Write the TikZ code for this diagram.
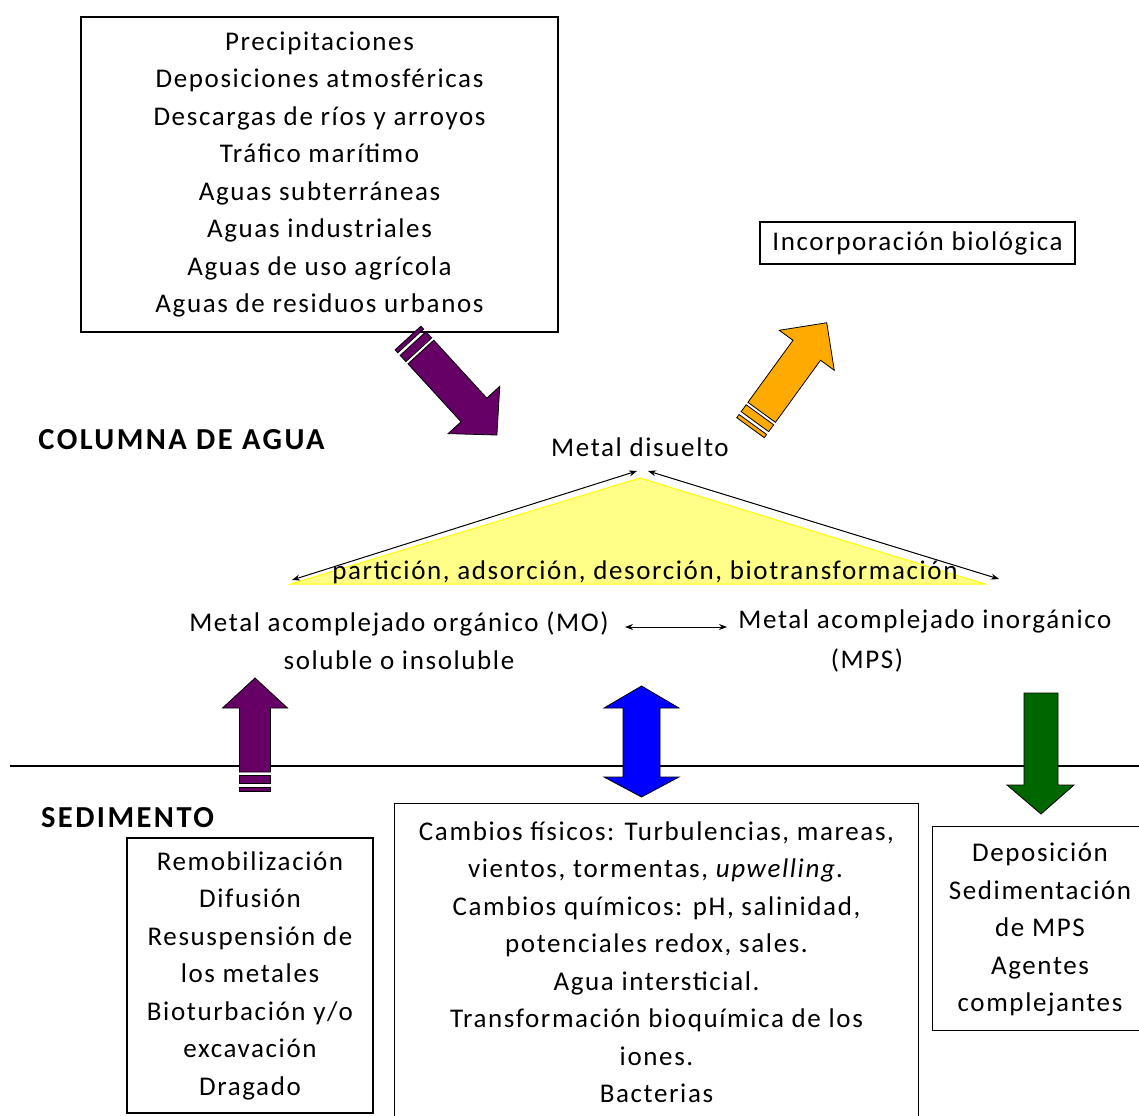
\documentclass[tikz,border=0pt]{standalone}
\usepackage{fontspec}
\setmainfont{Carlito}[LetterSpace=6]
\newfontfamily\boldlbl{Carlito}[LetterSpace=8]
\usetikzlibrary{arrows.meta}
\definecolor{purp}{HTML}{660066}
\definecolor{orng}{HTML}{FFAA00}
\definecolor{grn}{HTML}{006600}
\definecolor{blu}{HTML}{0000FF}
\definecolor{yel}{HTML}{FFFF88}
\definecolor{yedge}{HTML}{FFFF00}
% tail x, tail y, angle, length, shaft half width, head half width, head length, colour
\newcommand{\stripedarrow}[8]{%
  \begin{scope}[shift={(#1,#2)},rotate=#3]
    \filldraw[fill=#8,draw=black,line width=0.8pt] (0,-#5) rectangle (4,#5);
    \filldraw[fill=#8,draw=black,line width=0.8pt] (7.5,-#5) rectangle (16,#5);
    \filldraw[fill=#8,draw=black,line width=0.8pt]
      (19,-#5) -- ({#4-#7},-#5) -- ({#4-#7},-#6) -- (#4,0) -- ({#4-#7},#6)
      -- ({#4-#7},#5) -- (19,#5) -- cycle;
  \end{scope}}
\tikzset{
  txt/.style={font=\fontsize{27}{37.5}\selectfont, align=center, inner sep=0pt},
  bold/.style={font=\boldlbl\fontsize{30.5}{37.5}\selectfont\bfseries, inner sep=0pt},
  frame/.style={draw=black, line width=1.1pt, inner sep=0pt},
  thin/.style={line width=1pt, {Stealth[length=8pt,width=6pt]}-{Stealth[length=8pt,width=6pt]}},
  blockarrow/.style={draw=black, line width=0.8pt}
}
\begin{document}
\begin{tikzpicture}[x=1pt,y=-1pt]
\useasboundingbox (0,0) rectangle (1139,1115);

% separator line
\coordinate (s1) at (10,766);
\coordinate (s2) at (1139,766);
\draw[line width=1.2pt] (s1) -- (s2);

% top sources box
\node[frame, txt, minimum width=477pt, minimum height=315pt] (src) at (319.5,174.5)
  {Precipitaciones\\Deposiciones atmosféricas\\Descargas de ríos y arroyos\\Tráfico marítimo\\Aguas subterráneas\\Aguas industriales\\Aguas de uso agrícola\\Aguas de residuos urbanos};

% incorporation box
\node[frame, txt, minimum width=315pt, minimum height=42pt] (inc) at (917.5,243) {Incorporación biológica};

% section labels
\node[bold] (col) at (181.5,440) {COLUMNA DE AGUA};
\node[bold] (sed) at (127.5,818) {SEDIMENTO};

% yellow triangle
\coordinate (apex) at (640,478);
\coordinate (bl) at (291,584);
\coordinate (br) at (985,584);
\filldraw[fill=yel, draw=yedge, line width=1pt] (apex) -- (br) -- (bl) -- cycle;

\node[txt] (md) at (640,447) {Metal disuelto};
\node[txt] (proc) at (645,572) {partición, adsorción, desorción, biotransformación};

\coordinate (lt) at (637,471);
\coordinate (la) at (292,580);
\coordinate (rt) at (648,471);
\coordinate (ra) at (999,579);
\draw[thin] (lt) -- (la);
\draw[thin] (rt) -- (ra);

\node[txt] (mo) at (399,640.5) {Metal acomplejado orgánico (MO)\\soluble o insoluble};
\node[txt] (mpsi) at (925,621) {Metal acomplejado inorgánico};
\node[txt] (mpsb) at (867,660) {(MPS)};
\coordinate (h1) at (625,627);
\coordinate (h2) at (727,627);
\draw[thin] (h1) -- (h2);

% striped arrows
\stripedarrow{408}{338}{-47.5}{131.6}{17.5}{35}{34}{purp}
\stripedarrow{750.5}{427.7}{54}{129.7}{17}{34}{34}{orng}
\stripedarrow{255}{791}{90}{113}{15.5}{32.5}{30}{purp}

% blue double arrow
\filldraw[blockarrow, fill=blu] (641.5,686) -- (679,708) -- (660,708) -- (660,777) -- (679,777)
  -- (641.5,797) -- (604,777) -- (623,777) -- (623,708) -- (604,708) -- cycle;
% green down arrow
\filldraw[blockarrow, fill=grn] (1024,693) -- (1058,693) -- (1058,785) -- (1074,785)
  -- (1041,814) -- (1007,785) -- (1024,785) -- cycle;

% bottom boxes
\node[frame, txt, minimum width=246pt, minimum height=275pt] (rem) at (250,975.5)
  {Remobilización\\Difusión\\Resuspensión de\\los metales\\Bioturbación y/o\\excavación\\Dragado};

\node[txt, minimum width=523pt, minimum height=316pt] (mid) at (656.5,962)
  {Cambios físicos: Turbulencias, mareas,\\vientos, tormentas, \textit{upwelling.}\\Cambios químicos: pH, salinidad,\\potenciales redox, sales.\\Agua intersticial.\\Transformación bioquímica de los\\iones.\\Bacterias};
\draw[line width=1.1pt] (mid.south west) -- (mid.north west) -- (mid.north east) -- (mid.south east);

\node[txt, minimum width=212pt, minimum height=203pt] (dep) at (1038.7,928.4) {};
\node[txt] (dept) at (1040,930) {Deposición\\Sedimentación\\de MPS\\Agentes\\complejantes};
\draw[line width=1.1pt] (dep.north east) -- (dep.north west) -- (dep.south west) -- (dep.south east);
\end{tikzpicture}
\end{document}
